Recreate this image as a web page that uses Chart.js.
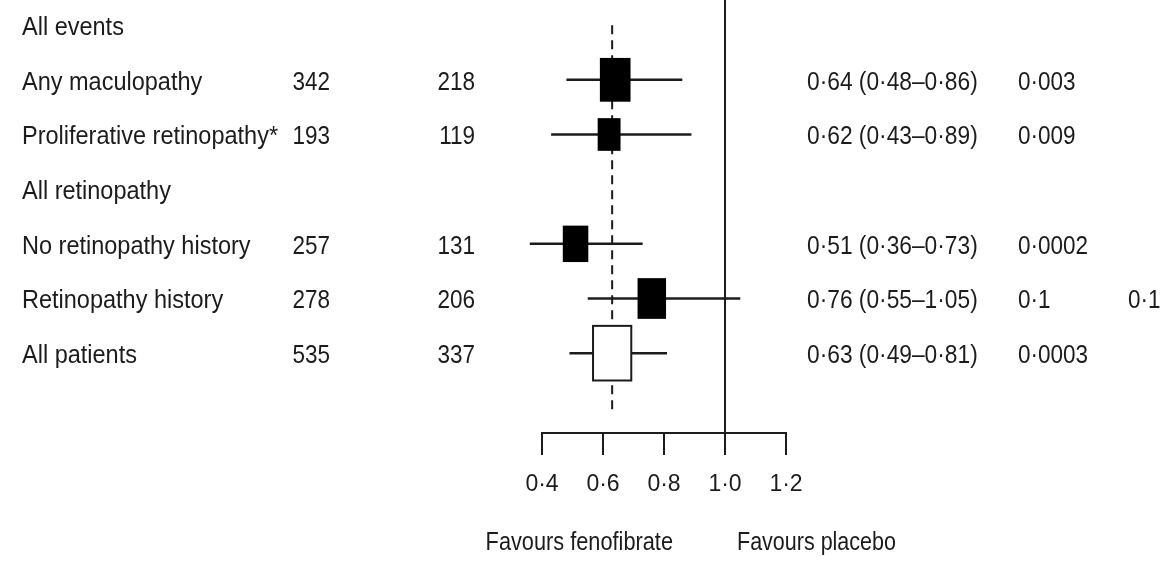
<!DOCTYPE html>
<html>
<head>
<meta charset="utf-8">
<script src="https://cdn.jsdelivr.net/npm/chart.js@4.4.1/dist/chart.umd.min.js"></script>
<style>
  html, body { margin: 0; padding: 0; background: #fff; }
</style>
</head>
<body>
<canvas id="chart" width="1170" height="563"></canvas>
<script>
// rows top to bottom, headers have no numbers
const rowLabels = ['All events', 'Any maculopathy', 'Proliferative retinopathy*', 'All retinopathy',
    'No retinopathy history', 'Retinopathy history', 'All patients']
const placeboEvents = [null, 342, 193, null, 257, 278, 535]
const fenofibrateEvents = [null, 218, 119, null, 131, 206, 337]
const hazardRatio = [null, 0.64, 0.62, null, 0.51, 0.76, 0.63]
const ciLow = [null, 0.48, 0.43, null, 0.36, 0.55, 0.49]
const ciHigh = [null, 0.86, 0.89, null, 0.73, 1.05, 0.81]
const pValue = [null, 0.003, 0.009, null, 0.0002, 0.1, 0.0003]
const pInteraction = [null, null, null, null, null, 0.1, null]
const xTicks = [0.4, 0.6, 0.8, 1.0, 1.2]

const totalRow = 6
const ink = '#1c1c1c'
const fontFamily = '"Liberation Sans", Arial, sans-serif'
const yMin = -0.46
const yMax = 7.46

const dot = v => String(v).replace('.', '·')
const two = v => v.toFixed(2).replace('.', '·')

// the source font is a narrow one, so text is squeezed sideways
function drawText(ctx, str, x, y, align, squeeze) {
    ctx.save()
    ctx.translate(x, y)
    ctx.scale(squeeze || 0.94, 1)
    ctx.textAlign = align || 'left'
    ctx.textBaseline = 'middle'
    ctx.fillText(str, 0, 0)
    ctx.restore()
}

// confidence interval lines, one dataset per row
var ciSets = []
hazardRatio.forEach((h, i) => {
    if (h == null) return
    ciSets.push({
        data: [{ x: ciLow[i], y: i }, { x: ciHigh[i], y: i }],
        borderColor: ink,
        borderWidth: 2.5,
        pointRadius: 0,
        clip: false
    })
})

const boxPlugin = {
    id: 'boxes',
    afterDatasetsDraw(chart) {
        const ctx = chart.ctx
        const xs = chart.scales.x
        const ys = chart.scales.y
        ctx.save()
        hazardRatio.forEach((h, i) => {
            if (h == null) return
            // box area follows number of events
            var hgt = 1.85 * Math.sqrt(placeboEvents[i] + fenofibrateEvents[i])
            var wid = 0.7 * hgt
            var cx = xs.getPixelForValue(h)
            var cy = ys.getPixelForValue(i)
            if (i == totalRow) {
                ctx.fillStyle = '#fff'
                ctx.fillRect(cx - wid / 2, cy - hgt / 2, wid, hgt)
                ctx.strokeStyle = ink
                ctx.lineWidth = 2
                ctx.strokeRect(cx - wid / 2, cy - hgt / 2, wid, hgt)
            } else {
                ctx.fillStyle = '#000'
                ctx.fillRect(cx - wid / 2, cy - hgt / 2, wid, hgt)
            }
        })
        ctx.restore()
    }
}

const textPlugin = {
    id: 'columns',
    afterDraw(chart) {
        const ctx = chart.ctx
        const xs = chart.scales.x
        const ys = chart.scales.y
        ctx.save()
        ctx.fillStyle = ink
        ctx.font = '25px ' + fontFamily
        rowLabels.forEach((label, i) => {
            var y = ys.getPixelForValue(i) + 3
            drawText(ctx, label, 22, y)
            if (placeboEvents[i] != null) drawText(ctx, String(placeboEvents[i]), 330, y, 'right', 0.9)
            if (fenofibrateEvents[i] != null) drawText(ctx, String(fenofibrateEvents[i]), 475, y, 'right', 0.9)
            if (hazardRatio[i] != null)
                drawText(ctx, two(hazardRatio[i]) + ' (' + two(ciLow[i]) + '–' + two(ciHigh[i]) + ')', 807, y, 'left', 0.91)
            if (pValue[i] != null) drawText(ctx, dot(pValue[i]), 1018, y, 'left', 0.9)
            if (pInteraction[i] != null) drawText(ctx, dot(pInteraction[i]), 1128, y, 'left', 0.9)
        })
        var one = xs.getPixelForValue(1)
        drawText(ctx, 'Favours fenofibrate', one - 52, 543, 'right', 0.87)
        drawText(ctx, 'Favours placebo', one + 12, 543, 'left', 0.86)
        ctx.restore()
    }
}

new Chart(document.getElementById('chart'), {
    type: 'line',
    data: {
        datasets: [
            {
                // no-effect line
                data: [{ x: 1, y: yMin }, { x: 1, y: yMax }],
                borderColor: ink,
                borderWidth: 2,
                pointRadius: 0,
                clip: false
            },
            {
                // overall estimate
                data: [{ x: hazardRatio[totalRow], y: 0 }, { x: hazardRatio[totalRow], y: 7.1 }],
                borderColor: ink,
                borderWidth: 2,
                borderDash: [9, 6],
                pointRadius: 0,
                clip: false
            },
            ...ciSets
        ]
    },
    options: {
        responsive: false,
        animation: false,
        layout: { padding: { left: 542, right: 384, top: 0, bottom: 0 } },
        plugins: { legend: { display: false }, tooltip: { enabled: false } },
        scales: {
            x: {
                type: 'linear',
                min: 0.4,
                max: 1.2,
                afterBuildTicks: s => { s.ticks = xTicks.map(v => ({ value: v })) },
                afterFit: s => { s.height = 130 },
                ticks: {
                    callback: v => v.toFixed(1).replace('.', '·'),
                    color: ink,
                    font: { family: fontFamily, size: 23 },
                    padding: 16,
                    maxRotation: 0
                },
                grid: { drawOnChartArea: false, color: ink, lineWidth: 2, tickLength: 22 },
                border: { color: ink, width: 2 }
            },
            y: {
                type: 'linear',
                display: false,
                reverse: true,
                min: yMin,
                max: yMax
            }
        }
    },
    plugins: [boxPlugin, textPlugin]
});
</script>
</body>
</html>
